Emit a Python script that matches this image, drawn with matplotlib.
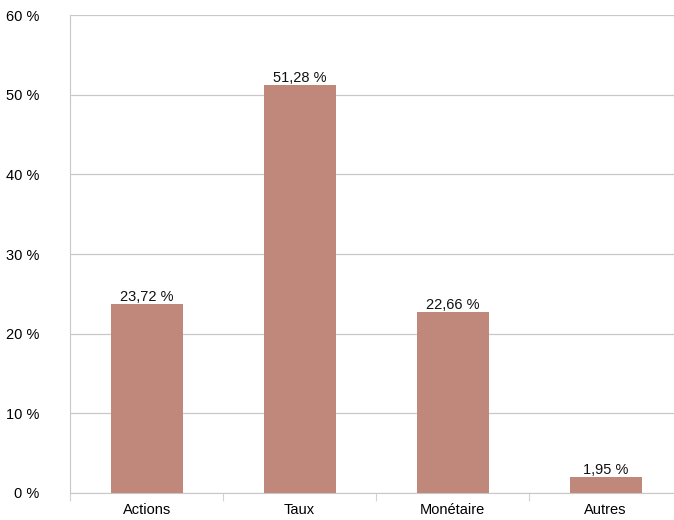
import matplotlib
matplotlib.use("Agg")
import matplotlib.pyplot as plt

categories = ["Actions", "Taux", "Monétaire", "Autres"]
values = [23.72, 51.28, 22.66, 1.95]
yticks = [0, 10, 20, 30, 40, 50, 60]

plt.rcParams['font.family'] = ['Liberation Sans', 'DejaVu Sans']

fig = plt.figure(figsize=(6.74, 5.2), dpi=100)
ax = fig.add_axes([0.104, 0.052, 0.908, 0.919])

x = range(len(categories))
ax.bar(x, values, width=0.47, color="#C0887A", zorder=3)
for i, v in zip(x, values):
    ax.text(i, v, f"{v:.2f} %".replace(".", ","), ha="center", va="bottom",
            fontsize=10.5, color="#111111", zorder=4)

ax.set_xlim(-0.5, len(categories) - 0.5)
ax.set_ylim(0, 60)
ax.set_yticks(yticks)
ax.set_yticklabels([f"{t} %" for t in yticks], fontsize=10.5)
ax.yaxis.grid(True, color="#C8C8C8", linewidth=0.9, zorder=0)
ax.tick_params(axis="y", length=0, pad=22)

ax.set_xticks([i - 0.5 for i in range(len(categories) + 1)], minor=False)
ax.set_xticklabels([])
ax.set_xticks(list(x), minor=True)
ax.set_xticklabels(categories, minor=True, fontsize=10.5)
ax.tick_params(axis="x", which="major", length=6, color="#C8D4E0")
ax.tick_params(axis="x", which="minor", length=0, pad=7)

for s in ["top", "right"]:
    ax.spines[s].set_visible(False)
ax.spines["left"].set_color("#C8C8C8")
ax.spines["bottom"].set_color("#C8C8C8")

fig.savefig("out.png", dpi=100)
